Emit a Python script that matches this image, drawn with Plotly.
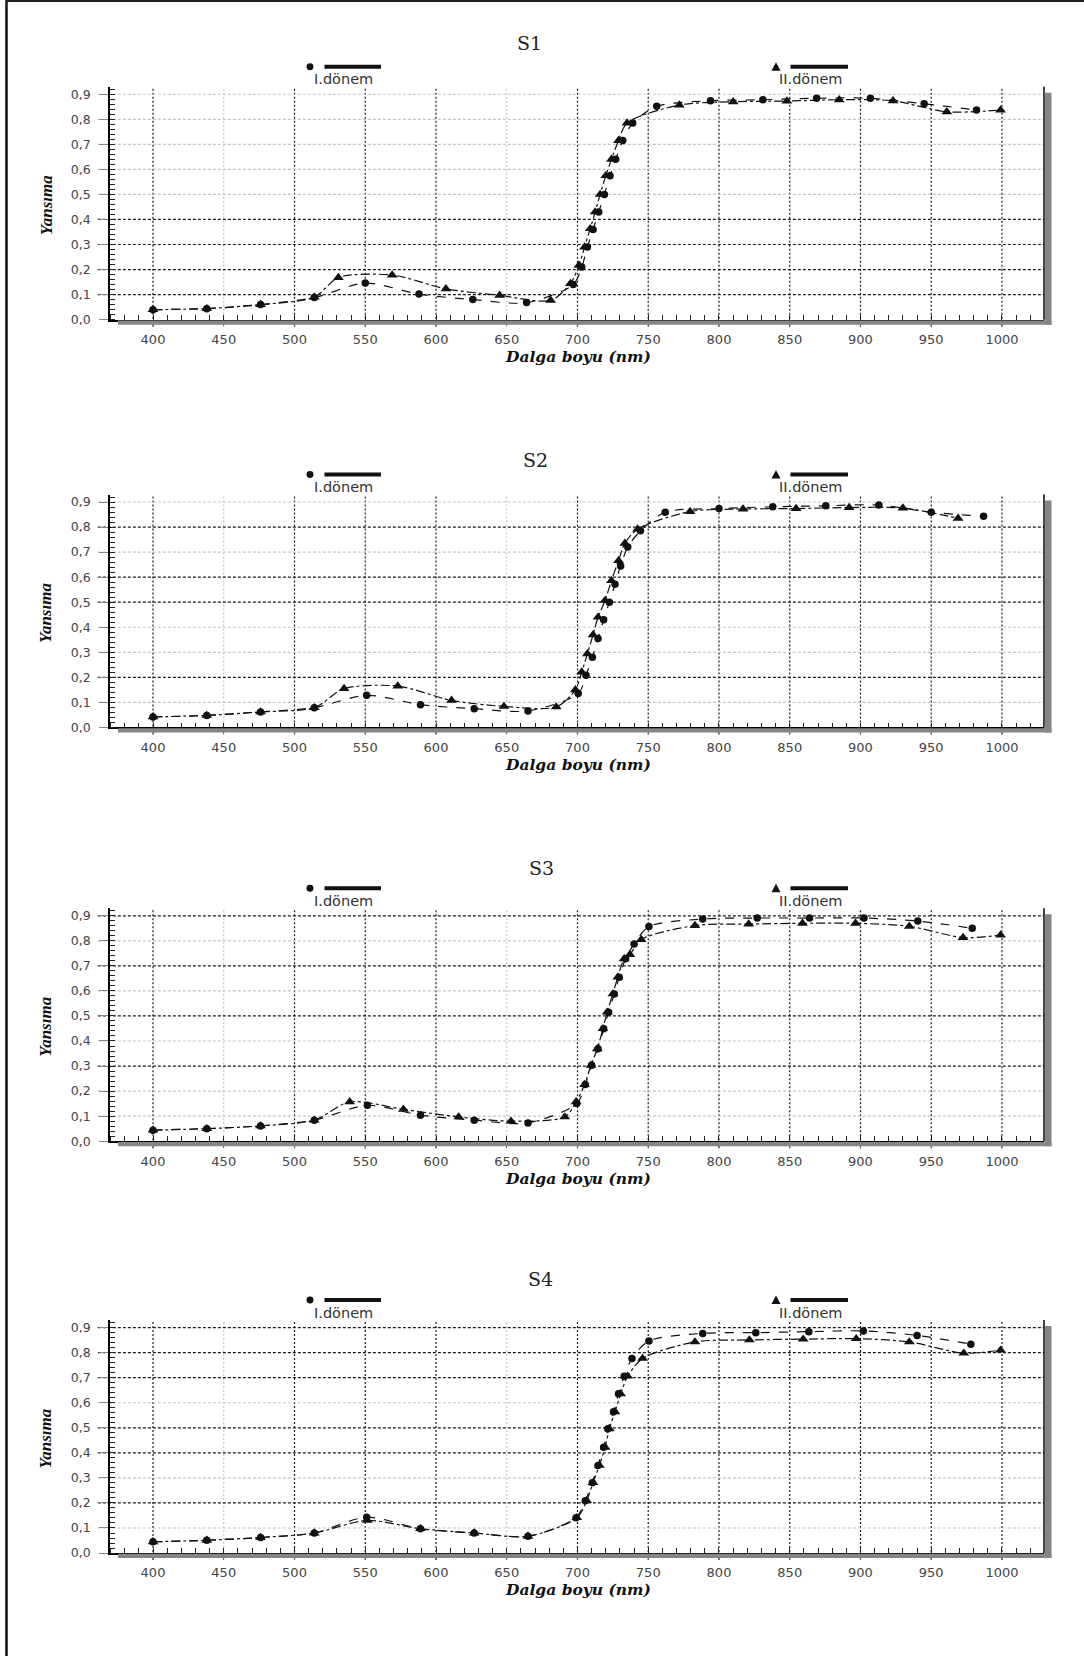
import plotly.graph_objects as go

W, H = 1084, 1663

# ---------------- data ----------------
panel_names = ["S1", "S2", "S3", "S4"]
series_names = ["I.dönem", "II.dönem"]
x_ticks = [400, 450, 500, 550, 600, 650, 700, 750, 800, 850, 900, 950, 1000]
y_ticks = [0.0, 0.1, 0.2, 0.3, 0.4, 0.5, 0.6, 0.7, 0.8, 0.9]

S1_I_wl = [400, 438, 476, 514, 550, 588, 626, 664, 697, 703, 707, 711, 715, 719, 723, 727, 732, 739,
           756, 794, 831, 869, 907, 945, 982]
S1_I_val = [0.04, 0.044, 0.06, 0.088, 0.146, 0.102, 0.08, 0.068, 0.14, 0.21, 0.29, 0.36, 0.43, 0.50,
            0.575, 0.64, 0.715, 0.785, 0.852, 0.874, 0.878, 0.884, 0.884, 0.862, 0.837]
S1_II_wl = [400, 438, 476, 514, 531, 569, 607, 645, 681, 695, 701, 705, 709, 712.5, 716, 720, 724, 729,
            735, 772, 810, 848, 885, 923, 961, 999]
S1_II_val = [0.04, 0.044, 0.06, 0.09, 0.168, 0.178, 0.123, 0.097, 0.077, 0.144, 0.217, 0.29, 0.363, 0.43,
             0.50, 0.575, 0.64, 0.715, 0.785, 0.857, 0.87, 0.873, 0.878, 0.874, 0.83, 0.837]

S2_I_wl = [400, 438, 476, 514, 551, 589, 627, 665, 700.5, 706, 710.5, 714.5, 718.5, 722.5, 726.5, 730.5,
           735.5, 744.5, 762, 800, 838, 875.5, 913, 950, 987]
S2_I_val = [0.042, 0.048, 0.062, 0.079, 0.128, 0.091, 0.075, 0.066, 0.135, 0.208, 0.28, 0.355, 0.43, 0.50,
            0.572, 0.645, 0.72, 0.785, 0.859, 0.874, 0.881, 0.885, 0.888, 0.859, 0.843]
S2_II_wl = [400, 438, 476, 514, 535, 573, 611, 648, 685, 698.5, 703, 707, 711, 714.5, 719.5, 724, 729,
            733.5, 742.5, 779.5, 817, 854.5, 892, 930, 969]
S2_II_val = [0.042, 0.048, 0.062, 0.079, 0.155, 0.165, 0.108, 0.084, 0.082, 0.15, 0.221, 0.294, 0.37, 0.44,
             0.507, 0.586, 0.666, 0.735, 0.792, 0.862, 0.872, 0.874, 0.878, 0.876, 0.835]

S3_I_wl = [400, 438, 476, 514, 551.5, 589, 627, 665, 699.5, 705.5, 710, 714.5, 718.5, 722, 726, 729.5,
           734, 740, 750.5, 788.5, 827, 864, 902.5, 940.5, 979]
S3_I_val = [0.044, 0.05, 0.061, 0.084, 0.143, 0.104, 0.084, 0.073, 0.15, 0.226, 0.303, 0.369, 0.449, 0.515,
            0.588, 0.655, 0.728, 0.787, 0.857, 0.887, 0.891, 0.891, 0.891, 0.879, 0.85]
S3_II_wl = [400, 438, 476, 514, 539, 577, 616, 653, 691, 699, 705, 709.5, 714, 718, 721, 725, 728.5, 733,
            737, 745, 783, 821, 859, 896.5, 934.5, 972.5, 999]
S3_II_val = [0.044, 0.05, 0.061, 0.084, 0.157, 0.127, 0.097, 0.08, 0.097, 0.157, 0.226, 0.303, 0.369,
             0.449, 0.515, 0.588, 0.655, 0.728, 0.745, 0.805, 0.861, 0.867, 0.87, 0.87, 0.858, 0.813, 0.823]

S4_I_wl = [400, 438, 476, 514, 551, 589, 627, 665, 699, 705.5, 710.5, 714.5, 718.5, 721.5, 725.5, 729,
           733, 738.5, 750.5, 788.5, 826, 863.5, 902, 940, 978]
S4_I_val = [0.045, 0.051, 0.062, 0.08, 0.143, 0.097, 0.08, 0.067, 0.141, 0.209, 0.281, 0.35, 0.422, 0.496,
            0.564, 0.636, 0.706, 0.777, 0.847, 0.877, 0.88, 0.884, 0.887, 0.869, 0.834]
S4_II_wl = [400, 438, 476, 514, 551.5, 589, 627, 665, 699.5, 706.5, 711, 715.5, 719.5, 722.5, 726.5,
            730.5, 735.5, 746, 783, 821.5, 859.5, 897, 934.5, 973, 999]
S4_II_val = [0.045, 0.051, 0.062, 0.08, 0.13, 0.097, 0.08, 0.067, 0.141, 0.209, 0.281, 0.35, 0.422, 0.496,
             0.564, 0.636, 0.706, 0.777, 0.843, 0.851, 0.854, 0.856, 0.843, 0.798, 0.81]

panel_data = [
    ((S1_I_wl, S1_I_val), (S1_II_wl, S1_II_val)),
    ((S2_I_wl, S2_I_val), (S2_II_wl, S2_II_val)),
    ((S3_I_wl, S3_I_val), (S3_II_wl, S3_II_val)),
    ((S4_I_wl, S4_I_val), (S4_II_wl, S4_II_val)),
]

# ---------------- layout / style (page pixel positions) ----------------
zero_px = [321, 730.5, 1146, 1559.6]          # pixel row of y = 0 in each panel
title_px = [(529, 43), (535, 462), (541, 872), (540, 1284)]
px_per_unit = 251.5
y_top = 0.93
x_left_px, x_right_px = 110, 1044
x_range = [369.6, 1029.7]
dark_h = [[0.1, 0.2, 0.3, 0.4], [0.2, 0.5, 0.6, 0.8], [0.3, 0.5, 0.7, 0.9], [0.2, 0.4, 0.5, 0.7, 0.8, 0.9]]
light_v = [450, 650]

DARK = "#1a1a1a"
LIGHT = "#c4c4c4"
SHADOW = "#858585"


def px(x):
    return x / W


def py(y):
    return 1 - y / H


fig = go.Figure()
shapes = []
annotations = []
layout = dict(
    width=W, height=H, margin=dict(l=0, r=0, t=0, b=0),
    paper_bgcolor="white", plot_bgcolor="white", showlegend=False,
    separators=",.", hovermode=False,
)

styles = [
    dict(symbol="circle", size=7.5, dash="dash"),
    dict(symbol="triangle-up", size=9.5, dash="dashdot"),
]

for k in range(4):
    sid = "" if k == 0 else str(k + 1)
    xa, ya = "x" + sid, "y" + sid
    y0 = zero_px[k]
    ytop_px = y0 - y_top * px_per_unit
    layout["xaxis" + sid] = dict(
        domain=[px(x_left_px), px(x_right_px)], range=x_range, anchor=ya,
        tickmode="linear", tick0=400, dtick=50, tickformat="d",
        showgrid=False, zeroline=False, showline=True, linecolor="black", linewidth=1.5,
        ticks="outside", ticklen=5, tickcolor="#666", tickwidth=1,
        tickfont=dict(family="DejaVu Sans", size=13, color="#444"),
        minor=dict(tick0=400, dtick=10, ticks="inside", ticklen=5, tickcolor="#222", showgrid=False),
        ticklabelstandoff=2,
    )
    layout["yaxis" + sid] = dict(
        domain=[py(y0), py(ytop_px)], range=[0, y_top], anchor=xa,
        tickmode="linear", tick0=0, dtick=0.1, tickformat=".1f",
        showgrid=False, zeroline=False, showline=True, linecolor="black", linewidth=1.5,
        ticks="outside", ticklen=9, tickcolor="#888", tickwidth=1,
        tickfont=dict(family="DejaVu Sans", size=12.5, color="#444"),
        minor=dict(dtick=0.02, ticks="inside", ticklen=5, tickcolor="#222", showgrid=False),
        ticklabelstandoff=6,
    )

    # grid lines
    for t in x_ticks:
        col = LIGHT if t in light_v else DARK
        shapes.append(dict(type="line", xref=xa, yref=ya + " domain", x0=t, x1=t, y0=-0.03, y1=1,
                           line=dict(color=col, width=1.2, dash="2px,2px"), layer="below"))
    for v in y_ticks[1:]:
        col = DARK if any(abs(v - d) < 1e-9 for d in dark_h[k]) else LIGHT
        shapes.append(dict(type="line", xref=xa + " domain", yref=ya, x0=-0.013, x1=1, y0=v, y1=v,
                           line=dict(color=col, width=1.2, dash="3px,2px"), layer="below"))

    # right frame + drop shadow
    shapes.append(dict(type="line", xref="paper", yref="paper", x0=px(x_right_px), x1=px(x_right_px),
                       y0=py(y0), y1=py(ytop_px), line=dict(color="black", width=1.5)))
    shapes.append(dict(type="rect", xref="paper", yref="paper", x0=px(x_right_px + 0.8), x1=px(x_right_px + 7.5),
                       y0=py(y0 + 5), y1=py(ytop_px + 6), fillcolor=SHADOW, line=dict(width=0)))
    shapes.append(dict(type="rect", xref="paper", yref="paper", x0=px(x_left_px + 8), x1=px(x_right_px + 7.5),
                       y0=py(y0 + 5), y1=py(y0 + 0.8), fillcolor=SHADOW, line=dict(width=0)))

    # traces
    for s, (wl, val) in enumerate(panel_data[k]):
        st = styles[s]
        fig.add_trace(go.Scatter(
            x=wl, y=val, mode="lines+markers", name=series_names[s], xaxis=xa, yaxis=ya,
            line=dict(color="#111", width=1.2, dash=st["dash"], shape="spline", smoothing=0.8),
            marker=dict(symbol=st["symbol"], size=st["size"], color="#111"),
        ))

    # panel title
    annotations.append(dict(text=panel_names[k], xref="paper", yref="paper",
                            x=px(title_px[k][0]), y=py(title_px[k][1]), showarrow=False,
                            xanchor="center", yanchor="middle",
                            font=dict(family="DejaVu Serif", size=19, color="#222")))

    # legend pieces
    ly = y0 - 254
    shapes.append(dict(type="circle", xref="paper", yref="paper",
                       x0=px(306.5), x1=px(313.5), y0=py(ly + 3.5), y1=py(ly - 3.5),
                       fillcolor="#111", line=dict(width=0)))
    shapes.append(dict(type="line", xref="paper", yref="paper", x0=px(324.5), x1=px(381),
                       y0=py(ly), y1=py(ly), line=dict(color="#111", width=4)))
    tri = "M {:.5f},{:.5f} L {:.5f},{:.5f} L {:.5f},{:.5f} Z".format(
        px(771.5), py(ly + 4), px(780.5), py(ly + 4), px(776), py(ly - 4.5))
    shapes.append(dict(type="path", xref="paper", yref="paper", path=tri,
                       fillcolor="#111", line=dict(width=0)))
    shapes.append(dict(type="line", xref="paper", yref="paper", x0=px(790.5), x1=px(848),
                       y0=py(ly), y1=py(ly), line=dict(color="#111", width=4)))
    annotations.append(dict(text=series_names[0], xref="paper", yref="paper",
                            x=px(343), y=py(y0 - 241.5), showarrow=False,
                            xanchor="center", yanchor="middle",
                            font=dict(family="DejaVu Sans", size=14.5, color="#333")))
    annotations.append(dict(text=series_names[1], xref="paper", yref="paper",
                            x=px(810), y=py(y0 - 241.5), showarrow=False,
                            xanchor="center", yanchor="middle",
                            font=dict(family="DejaVu Sans", size=14.5, color="#333")))

    # axis titles
    annotations.append(dict(text="<b><i>Dalga boyu (nm)</i></b>", xref="paper", yref="paper",
                            x=px(578), y=py(y0 + 37), showarrow=False,
                            xanchor="center", yanchor="middle",
                            font=dict(family="DejaVu Serif", size=15.5, color="#111")))
    annotations.append(dict(text="<b><i>Yansıma</i></b>", xref="paper", yref="paper",
                            x=px(46), y=py(y0 - 115), showarrow=False, textangle=-90,
                            xanchor="center", yanchor="middle",
                            font=dict(family="Liberation Serif", size=17, color="#111")))

# outer frame (left and top edges)
shapes.append(dict(type="line", xref="paper", yref="paper", x0=px(6.5), x1=px(6.5), y0=0, y1=1,
                   line=dict(color="#111", width=2.5)))
shapes.append(dict(type="line", xref="paper", yref="paper", x0=px(6), x1=1, y0=py(1), y1=py(1),
                   line=dict(color="#222", width=2)))

layout["shapes"] = shapes
layout["annotations"] = annotations
fig.update_layout(**layout)
fig.write_html("out.html", config={"displayModeBar": False},
               post_script="document.body.style.margin='0px';")
